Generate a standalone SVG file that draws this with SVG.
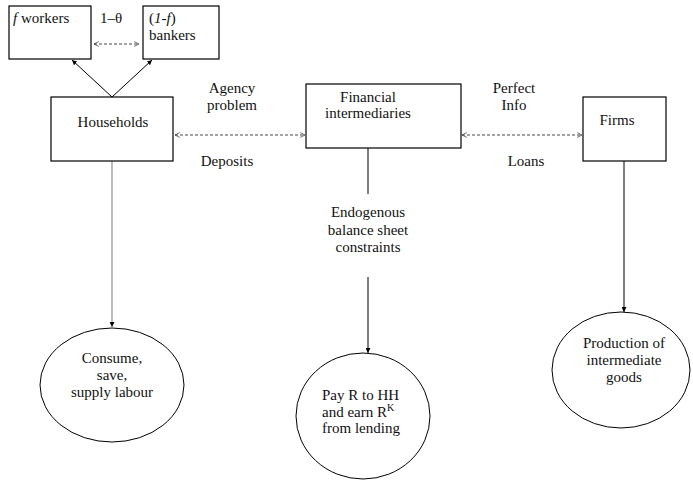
<svg xmlns="http://www.w3.org/2000/svg" width="693" height="481" viewBox="0 0 693 481" font-family="'Liberation Serif', serif" font-size="15">
<style>
text{font-family:'Liberation Serif',serif;font-size:15px;fill:#111}
.box{fill:#fff;stroke:#000;stroke-width:1.2}
.ell{fill:#fff;stroke:#000;stroke-width:1}
.dash{fill:none;stroke:#333;stroke-width:0.9;stroke-dasharray:3,2;marker-start:url(#open);marker-end:url(#open)}
.sol{fill:none;stroke:#000;stroke-width:1}
.m{text-anchor:middle}
</style>
<defs>
<marker id="fill" viewBox="0 0 10 10" refX="10" refY="5" markerWidth="5" markerHeight="5" markerUnits="userSpaceOnUse" orient="auto">
<path d="M0,0 L10,5 L0,10 Z" fill="#000"/>
</marker>
<marker id="open" viewBox="0 0 10 10" refX="9" refY="5" markerWidth="6" markerHeight="6" markerUnits="userSpaceOnUse" orient="auto-start-reverse">
<path d="M1,1 L9,5 L1,9" fill="none" stroke="#333" stroke-width="1.2"/>
</marker>
</defs>
<rect width="693" height="481" fill="#fff"/>
<g id="connectors">
<line class="dash" x1="94" y1="44" x2="139" y2="44"/>
<line class="sol" x1="112" y1="97" x2="72" y2="60" marker-end="url(#fill)"/>
<line class="sol" x1="112" y1="97" x2="152" y2="60" marker-end="url(#fill)"/>
<line class="dash" x1="175" y1="135" x2="305" y2="135"/>
<line class="dash" x1="462" y1="135" x2="582" y2="135"/>
<line x1="112" y1="161" x2="112" y2="327" stroke="#999" stroke-width="1.3" marker-end="url(#fill)"/>
<line class="sol" x1="368" y1="148" x2="368" y2="194"/>
<line class="sol" x1="368" y1="277" x2="368" y2="353" marker-end="url(#fill)"/>
<line class="sol" x1="624" y1="161" x2="624" y2="312" marker-end="url(#fill)"/>
<text class="m" x="111" y="23">1–θ</text>
<text class="m" x="232" y="93">Agency</text>
<text class="m" x="232" y="110">problem</text>
<text class="m" x="227" y="166">Deposits</text>
<text class="m" x="514" y="93">Perfect</text>
<text class="m" x="514" y="110">Info</text>
<text class="m" x="526" y="166">Loans</text>
<text class="m" x="368" y="217">Endogenous</text>
<text class="m" x="368" y="235">balance sheet</text>
<text class="m" x="368" y="252">constraints</text>
</g>
<g id="workers">
<rect class="box" x="9" y="6" width="82" height="53"/>
<text x="13" y="23"><tspan font-style="italic">f</tspan> workers</text>
</g>
<g id="bankers">
<rect class="box" x="143" y="6" width="76" height="53"/>
<text x="149" y="23">(<tspan font-style="italic">1-f</tspan>)</text>
<text x="149" y="40">bankers</text>
</g>
<g id="households">
<rect class="box" x="51" y="97" width="122" height="64"/>
<text class="m" x="113" y="127">Households</text>
</g>
<g id="fi">
<rect class="box" x="306" y="84" width="155" height="64"/>
<text class="m" x="368" y="102">Financial</text>
<text class="m" x="368" y="118">intermediaries</text>
</g>
<g id="firms">
<rect class="box" x="583" y="97" width="83" height="64"/>
<text class="m" x="617" y="125">Firms</text>
</g>
<g id="consume">
<ellipse class="ell" cx="112" cy="385" rx="72" ry="57"/>
<text class="m" x="112" y="363">Consume,</text>
<text class="m" x="112" y="380">save,</text>
<text class="m" x="112" y="397">supply labour</text>
</g>
<g id="pay">
<ellipse class="ell" cx="363" cy="416" rx="67" ry="63"/>
<text x="322" y="400">Pay R to HH</text>
<text x="322" y="417">and earn R<tspan font-size="10" dy="-6">K</tspan></text>
<text x="322" y="433">from lending</text>
</g>
<g id="production">
<ellipse class="ell" cx="621" cy="370" rx="69" ry="58"/>
<text class="m" x="624" y="348">Production of</text>
<text class="m" x="624" y="365">intermediate</text>
<text class="m" x="624" y="382">goods</text>
</g>
</svg>
